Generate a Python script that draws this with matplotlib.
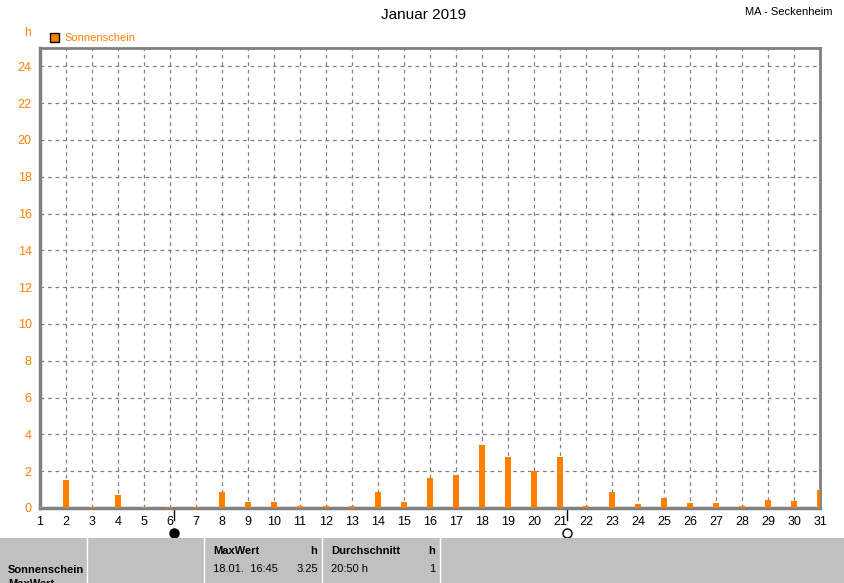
import matplotlib
matplotlib.use('Agg')
import matplotlib.pyplot as plt
from matplotlib.patches import Rectangle

plt.rcParams['font.family'] = ['Liberation Sans', 'DejaVu Sans']

days = list(range(1, 32))
sun_hours = [0.05, 1.5, 0.05, 0.7, 0.05, 0.05, 0.05, 0.88, 0.3, 0.3,
             0.12, 0.1, 0.1, 0.88, 0.3, 1.65, 1.8, 3.42, 2.75, 2.0,
             2.75, 0.1, 0.88, 0.22, 0.55, 0.27, 0.27, 0.1, 0.43, 0.38,
             1.0]
y_ticks = list(range(0, 25, 2))
new_moon_day = 6.15
full_moon_day = 21.27

orange = '#ff8000'
W, H = 845, 583

fig = plt.figure(figsize=(W / 100, H / 100), dpi=100)
ax = fig.add_axes([40 / W, (H - 508) / H, 780 / W, 460 / H])

ax.bar(days, sun_hours, width=0.24, color=orange, zorder=3)

ax.set_xlim(1, 31)
ax.set_ylim(0, 25)
ax.set_xticks(days)
ax.set_yticks(y_ticks)
ax.tick_params(axis='x', length=0, labelsize=9, pad=6, colors='black')
ax.tick_params(axis='y', length=0, labelsize=9, pad=6, labelcolor=orange)
ax.grid(True, color='#808080', linestyle=(0, (3, 3)), linewidth=0.9, zorder=1)
for side in ax.spines:
    ax.spines[side].set_color('#808080')
ax.spines['left'].set_linewidth(2.5)
ax.spines['bottom'].set_linewidth(2.5)
ax.spines['top'].set_linewidth(2)
ax.spines['right'].set_linewidth(2)

# moon phase markers
for d, filled in [(new_moon_day, True), (full_moon_day, False)]:
    ax.plot([d, d], [0, -0.65], color='black', lw=1, clip_on=False)
    ax.plot(d, -1.35, marker='o', markersize=6.5,
            markerfacecolor='black' if filled else 'white',
            markeredgecolor='black', clip_on=False)

# texts on top
fig.text(424 / W, 1 - 15 / H, 'Januar 2019', ha='center', va='center', fontsize=11)
fig.text(833 / W, 1 - 12 / H, 'MA - Seckenheim', ha='right', va='center', fontsize=8)
fig.text(27 / W, 1 - 33 / H, 'h', ha='center', va='center', fontsize=8.5, color=orange)
fig.patches.append(Rectangle((50 / W, 1 - 42 / H), 9 / W, 9 / H, transform=fig.transFigure,
                             facecolor=orange, edgecolor='black', lw=1))
fig.text(64 / W, 1 - 38 / H, 'Sonnenschein', ha='left', va='center', fontsize=8, color=orange)

# statistics table at the bottom
fig.patches.append(Rectangle((0, 0), 1, (H - 538) / H, transform=fig.transFigure,
                             facecolor='#c0c0c0', edgecolor='none'))
for xs in [87, 204, 322, 440]:
    fig.add_artist(plt.Line2D([xs / W, xs / W], [0, (H - 538) / H],
                              transform=fig.transFigure, color='white', lw=1))

def cell(x, y, s, bold=False, ha='left'):
    fig.text(x / W, 1 - y / H, s, ha=ha, va='center', fontsize=8,
             fontweight='bold' if bold else 'normal')

cell(8, 570, 'Sonnenschein', bold=True)
cell(8, 584, 'MaxWert', bold=True)
cell(213, 551, 'MaxWert', bold=True)
cell(317, 551, 'h', bold=True, ha='right')
cell(213, 569, '18.01.  16:45')
cell(318, 569, '3.25', ha='right')
cell(331, 551, 'Durchschnitt', bold=True)
cell(435, 551, 'h', bold=True, ha='right')
cell(331, 569, '20:50 h')
cell(435, 569, '1', ha='right')

fig.savefig('out.png', dpi=100)
